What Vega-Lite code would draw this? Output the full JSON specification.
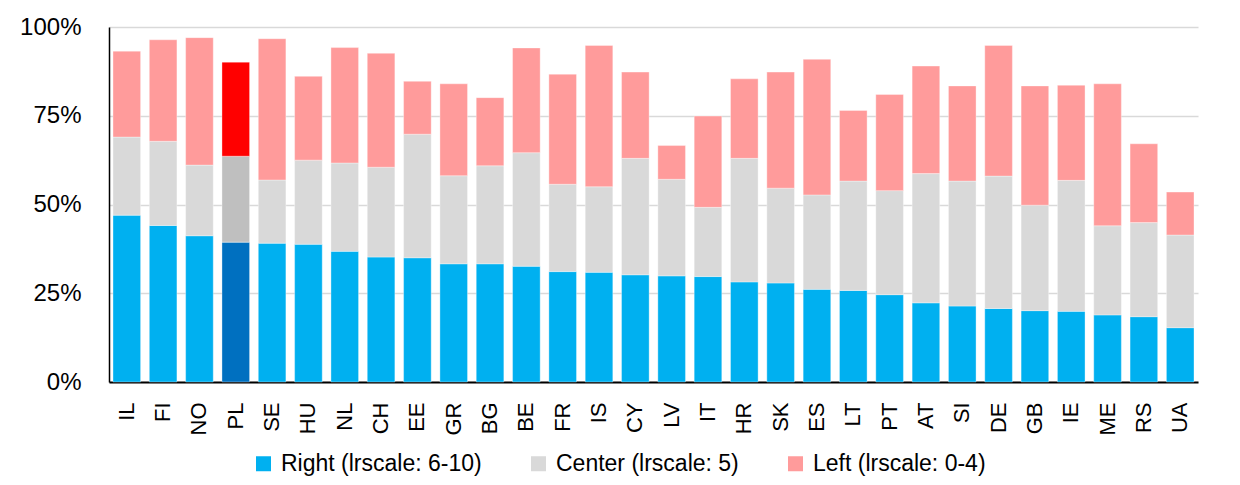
{
  "$schema": "https://vega.github.io/schema/vega-lite/v6.json",
  "autosize": {"type": "none"},
  "width": 1089,
  "height": 355,
  "padding": {"left": 109, "top": 27, "right": 42, "bottom": 103},
  "background": "white",
  "config": {
    "font": "Liberation Sans",
    "view": {"stroke": null},
    "axis": {"labelFont": "Liberation Sans", "labelColor": "#000000", "ticks": false, "title": null}
  },
  "data": {
    "values": [
      {"country": "IL", "Right": 47.0, "Center": 22.0, "Left": 24.2},
      {"country": "FI", "Right": 44.1, "Center": 23.7, "Left": 28.6},
      {"country": "NO", "Right": 41.2, "Center": 19.9, "Left": 35.9},
      {"country": "PL", "Right": 39.4, "Center": 24.2, "Left": 26.5},
      {"country": "SE", "Right": 39.1, "Center": 17.8, "Left": 39.8},
      {"country": "HU", "Right": 38.8, "Center": 23.7, "Left": 23.6},
      {"country": "NL", "Right": 36.8, "Center": 24.9, "Left": 32.5},
      {"country": "CH", "Right": 35.2, "Center": 25.3, "Left": 32.1},
      {"country": "EE", "Right": 35.0, "Center": 34.8, "Left": 14.9},
      {"country": "GR", "Right": 33.3, "Center": 24.8, "Left": 25.9},
      {"country": "BG", "Right": 33.3, "Center": 27.6, "Left": 19.2},
      {"country": "BE", "Right": 32.6, "Center": 32.0, "Left": 29.5},
      {"country": "FR", "Right": 31.1, "Center": 24.6, "Left": 31.0},
      {"country": "IS", "Right": 30.9, "Center": 24.1, "Left": 39.8},
      {"country": "CY", "Right": 30.2, "Center": 32.8, "Left": 24.3},
      {"country": "LV", "Right": 29.9, "Center": 27.2, "Left": 9.5},
      {"country": "IT", "Right": 29.7, "Center": 19.5, "Left": 25.7},
      {"country": "HR", "Right": 28.2, "Center": 34.8, "Left": 22.4},
      {"country": "SK", "Right": 27.9, "Center": 26.7, "Left": 32.7},
      {"country": "ES", "Right": 26.1, "Center": 26.6, "Left": 38.2},
      {"country": "LT", "Right": 25.8, "Center": 30.8, "Left": 19.9},
      {"country": "PT", "Right": 24.6, "Center": 29.3, "Left": 27.1},
      {"country": "AT", "Right": 22.3, "Center": 36.4, "Left": 30.3},
      {"country": "SI", "Right": 21.4, "Center": 35.2, "Left": 26.8},
      {"country": "DE", "Right": 20.7, "Center": 37.3, "Left": 36.8},
      {"country": "GB", "Right": 20.1, "Center": 29.7, "Left": 33.6},
      {"country": "IE", "Right": 19.9, "Center": 36.9, "Left": 26.8},
      {"country": "ME", "Right": 18.9, "Center": 25.1, "Left": 40.0},
      {"country": "RS", "Right": 18.4, "Center": 26.5, "Left": 22.2},
      {"country": "UA", "Right": 15.3, "Center": 26.1, "Left": 12.1}
    ]
  },
  "transform": [
    {"fold": ["Right", "Center", "Left"], "as": ["seg", "value"]},
    {"calculate": "indexof(['Right', 'Center', 'Left'], datum.seg)", "as": "ord"},
    {"calculate": "(datum.country === 'PL' ? 'PL ' : '') + (datum.seg === 'Right' ? 'Right (lrscale: 6-10)' : datum.seg === 'Center' ? 'Center (lrscale: 5)' : 'Left (lrscale: 0-4)')", "as": "grp"}
  ],
  "mark": {"type": "bar", "stroke": "white", "strokeOpacity": 0.35, "strokeWidth": 1},
  "encoding": {
    "x": {
      "field": "country",
      "type": "nominal",
      "sort": null,
      "scale": {"paddingInner": 0.24, "paddingOuter": 0.11},
      "axis": {
        "labelAngle": 270,
        "labelFontSize": 22,
        "labelPadding": 20,
        "domainColor": "#000000",
        "domainWidth": 2
      }
    },
    "y": {
      "field": "value",
      "type": "quantitative",
      "stack": "zero",
      "scale": {"domain": [0, 100], "nice": false},
      "axis": {
        "values": [0, 25, 50, 75, 100],
        "labelExpr": "datum.value + '%'",
        "labelFontSize": 24,
        "labelPadding": 28,
        "grid": true,
        "gridColor": "#D9D9D9",
        "gridWidth": 1.4,
        "domainColor": "#000000",
        "domainWidth": 1.5
      }
    },
    "order": {"field": "ord", "type": "quantitative"},
    "color": {
      "field": "grp",
      "type": "nominal",
      "scale": {
        "domain": ["Right (lrscale: 6-10)", "Center (lrscale: 5)", "Left (lrscale: 0-4)", "PL Right (lrscale: 6-10)", "PL Center (lrscale: 5)", "PL Left (lrscale: 0-4)"],
        "range": ["#00B0F0", "#D9D9D9", "#FF9B9B", "#0070C0", "#BFBFBF", "#FF0000"]
      },
      "legend": {
        "values": ["Right (lrscale: 6-10)", "Center (lrscale: 5)", "Left (lrscale: 0-4)"],
        "title": null,
        "orient": "none",
        "direction": "horizontal",
        "legendX": 143,
        "legendY": 425,
        "labelFont": "Liberation Sans",
        "labelFontSize": 23,
        "labelColor": "#000000",
        "labelLimit": 400,
        "labelOffset": 6,
        "columnPadding": 45,
        "symbolType": "square",
        "symbolSize": 225,
        "symbolStrokeWidth": 0
      }
    }
  }
}
